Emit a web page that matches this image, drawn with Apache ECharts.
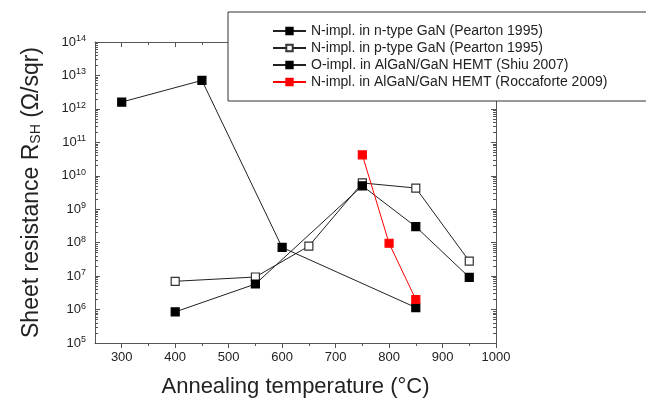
<!DOCTYPE html>
<html>
<head>
<meta charset="utf-8">
<script src="https://cdn.jsdelivr.net/npm/echarts@6/dist/echarts.min.js"></script>
<style>
  html, body { margin: 0; background: #fff; }
  #chart { width: 646px; height: 403px; }
</style>
</head>
<body>
<div id="chart"></div>
<script>
// data (temperature in °C, sheet resistance in ohm/sqr)
const nTypeTemps = [300, 450, 600, 850];
const nTypeRes = [1.6e12, 7.1e12, 7.2e7, 1.15e6];
const pTypeTemps = [400, 550, 650, 750, 850, 950];
const pTypeRes = [7.0e6, 9.4e6, 7.9e7, 6.1e9, 4.3e9, 2.8e7];
const shiuTemps = [400, 550, 750, 850, 950];
const shiuRes = [8.5e5, 5.8e6, 5.0e9, 3.0e8, 9.2e6];
const roccaTemps = [750, 800, 850];
const roccaRes = [4.2e10, 9.6e7, 2.0e6];

const seriesNames = [
  "N-impl. in n-type GaN (Pearton 1995)",
  "N-impl. in p-type GaN (Pearton 1995)",
  "O-impl. in AlGaN/GaN HEMT (Shiu 2007)",
  "N-impl. in AlGaN/GaN HEMT (Roccaforte 2009)"
];

const xMajorTicks = [300, 400, 500, 600, 700, 800, 900, 1000];
const xMinorTicks = [350, 450, 550, 650, 750, 850, 950];
const yDecades = [1e5, 1e6, 1e7, 1e8, 1e9, 1e10, 1e11, 1e12, 1e13, 1e14];

const yMinorTicks = [];
yDecades.slice(0, -1).forEach(d => {
  for (let k = 2; k <= 9; k++) yMinorTicks.push(k * d);
});

const pair = (xs, ys) => xs.map((x, i) => [x, ys[i]]);

const font = "Liberation Sans, Arial, sans-serif";
const frame = "#555";

const chart = echarts.init(document.getElementById("chart"));

function xAx(pos, ticks, len, inside, main) {
  return {
    type: "value", position: pos, min: 250, max: 1000, interval: 50,
    axisLine: { show: main, lineStyle: { color: frame, width: 1 } },
    axisTick: { show: true, inside: inside, length: len, customValues: ticks,
      lineStyle: { color: frame } },
    axisLabel: { show: main && pos === "bottom", customValues: xMajorTicks,
      formatter: v => String(v),
      margin: 8, fontSize: 13, color: "#222", fontFamily: font },
    splitLine: { show: false }
  };
}

function yAx(pos, ticks, len, main) {
  return {
    type: "log", logBase: 10, position: pos, min: 1e5, max: 1e14,
    axisLine: { show: main, lineStyle: { color: frame, width: 1 } },
    axisTick: { show: true, inside: true, length: len, customValues: ticks,
      lineStyle: { color: frame } },
    axisLabel: {
      show: main && pos === "left", customValues: yDecades, margin: 9,
      formatter: v => "{b|10}{s|" + Math.round(Math.log10(v)) + "}",
      rich: {
        b: { fontSize: 13, color: "#222", fontFamily: font },
        s: { fontSize: 9, color: "#222", fontFamily: font, verticalAlign: "top", padding: [0, 0, 7, 0] }
      }
    },
    splitLine: { show: false }
  };
}

const xAxes = [
  xAx("bottom", xMajorTicks, 5, false, true),
  xAx("bottom", xMinorTicks, 3, false, false),
  xAx("top", xMajorTicks, 5, true, true),
  xAx("top", xMinorTicks, 3, true, false)
];
xAxes[0].name = "Annealing temperature (°C)";
xAxes[0].nameLocation = "middle";
xAxes[0].nameGap = 33;
xAxes[0].nameTextStyle = { fontSize: 22, color: "#222", fontFamily: font };

const yAxes = [
  yAx("left", yDecades, 5, true),
  yAx("left", yMinorTicks, 3, false),
  yAx("right", yDecades, 5, true),
  yAx("right", yMinorTicks, 3, false)
];
yAxes[0].name = "Sheet resistance R{sub|SH} (Ω/sqr)";
yAxes[0].nameLocation = "middle";
yAxes[0].nameGap = 52;
yAxes[0].nameTextStyle = {
  fontSize: 23, color: "#222", fontFamily: font,
  rich: { sub: { fontSize: 14, color: "#222", fontFamily: font, verticalAlign: "bottom", padding: [8, 0, 0, 0] } }
};

function lineSeries(name, data, fill, border, lineColor) {
  return {
    name: name, type: "line", data: data, xAxisIndex: 0, yAxisIndex: 0,
    symbol: "rect", symbolSize: 8, showSymbol: true,
    lineStyle: { color: lineColor, width: 1 },
    itemStyle: { color: fill, borderColor: border, borderWidth: 1.2 },
    emphasis: { disabled: true }
  };
}

chart.setOption({
  animation: false,
  backgroundColor: "#fff",
  grid: { left: 95, right: 150, top: 42, bottom: 60, containLabel: false },
  xAxis: xAxes,
  yAxis: yAxes,
  legend: {
    orient: "vertical", left: 228, top: 12,
    padding: [12, 60, 12, 44], itemGap: 3, itemWidth: 33, itemHeight: 8,
    borderColor: "#333", borderWidth: 1, backgroundColor: "#fff",
    textStyle: { fontSize: 14, lineHeight: 14, color: "#222", fontFamily: font },
    data: seriesNames
  },
  series: [
    lineSeries(seriesNames[0], pair(nTypeTemps, nTypeRes), "#000", "#000", "#222"),
    lineSeries(seriesNames[1], pair(pTypeTemps, pTypeRes), "#fff", "#333", "#222"),
    lineSeries(seriesNames[2], pair(shiuTemps, shiuRes), "#000", "#000", "#222"),
    lineSeries(seriesNames[3], pair(roccaTemps, roccaRes), "#ff0000", "#ff0000", "#ff0000")
  ]
});
window.addEventListener("resize", chart.resize);
</script>
</body>
</html>
